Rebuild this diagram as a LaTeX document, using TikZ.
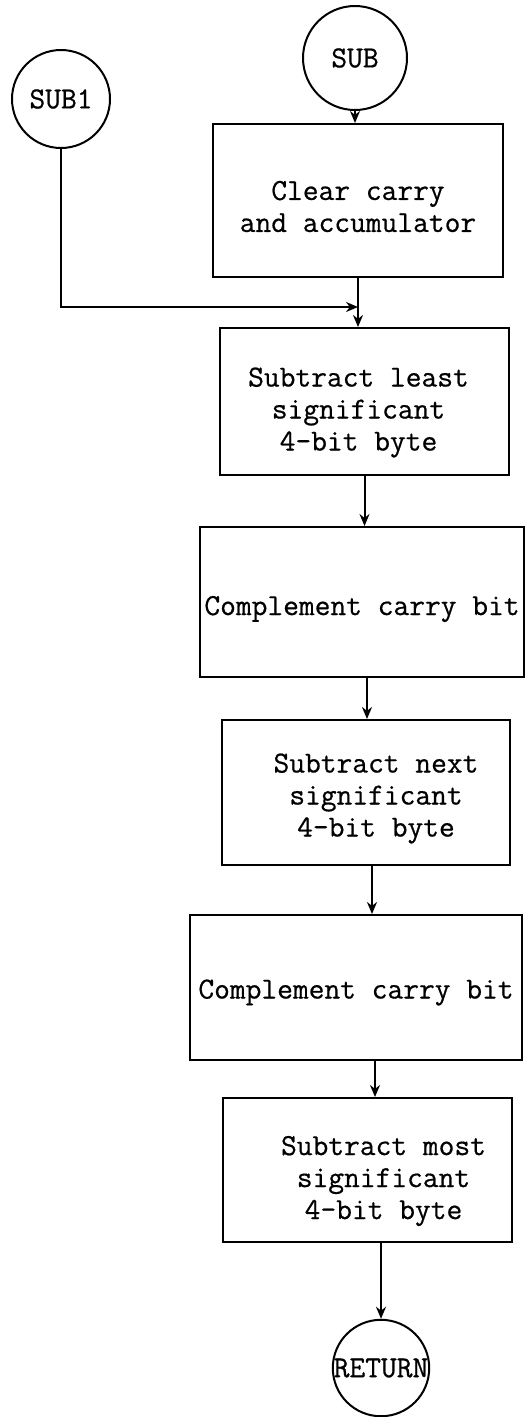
\documentclass[tikz,border=0pt]{standalone}
\usepackage{fontspec}
\newfontfamily\typew[FakeBold=0.6]{Latin Modern Mono}
\usetikzlibrary{arrows.meta}
\begin{document}
\begin{tikzpicture}[x=1pt,y=-1pt,
  every node/.style={font=\typew\fontsize{30.6}{32}\selectfont},
  box/.style={draw,line width=2pt,rectangle,inner sep=0pt},
  txt/.style={align=center,inner sep=0pt},
  term/.style={draw,line width=2pt,circle,inner sep=0pt},
  arr/.style={line width=2pt,-{Stealth[length=12pt,width=10pt]}}]
\useasboundingbox (0,0) rectangle (530,1417);
\node[term,minimum size=104pt] (sub) at (355,58) {SUB};
\node[term,minimum size=98pt] (sub1) at (61,99) {SUB1};
\node[box,minimum width=290pt,minimum height=153pt,
  label={[txt,yshift=-6pt]center:{Clear carry\\and accumulator}}] (b1) at (358,200.5) {};
\node[box,minimum width=289pt,minimum height=147pt,
  label={[txt,xshift=-6pt,yshift=-11pt]center:{Subtract least\\significant\\4-bit byte}}] (b2) at (364.5,401.5) {};
\node[box,minimum width=324pt,minimum height=150pt,
  label={[txt,yshift=-7pt]center:{Complement carry bit}}] (b3) at (362,602) {};
\node[box,minimum width=288pt,minimum height=145pt,
  label={[txt,xshift=10pt,yshift=-6pt]center:{Subtract next\\significant\\4-bit byte}}] (b4) at (366,792.5) {};
\node[box,minimum width=332pt,minimum height=145pt,
  label={[txt,yshift=-5pt]center:{Complement carry bit}}] (b5) at (356,987.5) {};
\node[box,minimum width=289pt,minimum height=144pt,
  label={[txt,xshift=16pt,yshift=-11pt]center:{Subtract most\\significant\\4-bit byte}}] (b6) at (367.5,1170) {};
\node[term,minimum size=96pt] (ret) at (381,1368) {RETURN};
\coordinate (j) at (358,307);
\draw[arr] (sub.south) -- (sub.south |- b1.north);
\draw[arr] (sub1.south) |- (j);
\draw[arr] (b1.south) -- (b1.south |- b2.north);
\draw[arr] (b2.south) -- (b2.south |- b3.north);
\draw[arr] ([xshift=5pt]b3.south) -- ([xshift=5pt]b3.south |- b4.north);
\draw[arr] ([xshift=6pt]b4.south) -- ([xshift=6pt]b4.south |- b5.north);
\draw[arr] ([xshift=19pt]b5.south) -- ([xshift=19pt]b5.south |- b6.north);
\draw[arr] (ret.north |- b6.south) -- (ret.north);
\end{tikzpicture}
\end{document}
